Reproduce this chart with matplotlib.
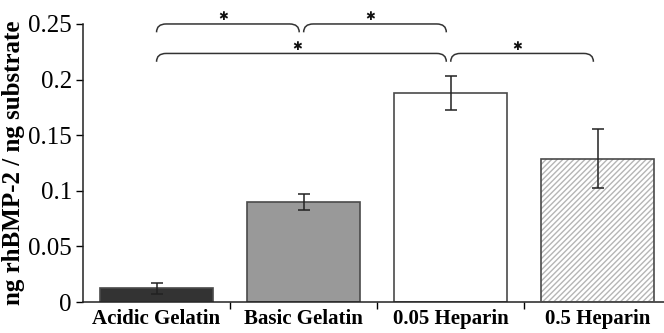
import matplotlib
matplotlib.use("Agg")
import matplotlib.pyplot as plt
from matplotlib.path import Path
from matplotlib.patches import PathPatch

categories = ["Acidic Gelatin", "Basic Gelatin", "0.05 Heparin", "0.5 Heparin"]
values = [0.0125, 0.090, 0.188, 0.129]
errors = [0.005, 0.0075, 0.015, 0.0265]
yticks = [0, 0.05, 0.1, 0.15, 0.2, 0.25]
ytick_labels = ["0", "0.05", "0.1", "0.15", "0.2", "0.25"]
# significance brackets: (start index, end index, level)
brackets = [(0, 1, 0.25), (1, 2, 0.25), (0, 2, 0.2235), (2, 3, 0.2235)]

plt.rcParams['font.family'] = ['Liberation Serif', 'DejaVu Serif']

fig = plt.figure(figsize=(6.64, 3.33), dpi=100)
ax = fig.add_axes([0.125, 0.093, 0.875, 0.835])

x = list(range(len(categories)))
fills = ["#333333", "#999999", "#ffffff", "#ffffff"]
edge = "#4a4a4a"
width = 0.77

for i, (v, c) in enumerate(zip(values, fills)):
    if i == 3:
        ax.bar(x[i], v, width=width, color="white", edgecolor="#b5b5b5",
               hatch="//////", linewidth=0, zorder=2)
        ax.bar(x[i], v, width=width, fill=False, edgecolor=edge, linewidth=1.2, zorder=3)
    else:
        ax.bar(x[i], v, width=width, color=c, edgecolor=edge, linewidth=1.2, zorder=2)

ax.errorbar(x, values, yerr=errors, fmt="none", ecolor="#222222",
            elinewidth=1.1, capsize=4, capthick=1.1, zorder=4)

ax.set_xlim(-0.5, 3.45)
ax.set_ylim(0, 0.25)
ax.set_yticks(yticks)
ax.set_yticklabels(ytick_labels, fontsize=18)
ax.set_xticks(x)
ax.set_xticklabels(categories, fontsize=15, fontweight="bold")
ax.set_xticks([0.5, 1.5, 2.5], minor=True)
ax.tick_params(axis="x", which="major", length=0, pad=5)
ax.tick_params(axis="x", which="minor", length=5, direction="out", width=1)
ax.tick_params(axis="y", length=5, direction="out", width=1, pad=3)
for s in ["top", "right"]:
    ax.spines[s].set_visible(False)
for s in ["left", "bottom"]:
    ax.spines[s].set_linewidth(1.1)
    ax.spines[s].set_color("#222222")
ax.set_ylabel("ng rhBMP-2 / ng substrate", fontsize=18, fontweight="bold", labelpad=2)

# braces
h = 0.0075
w = 0.065
for i, j, yl in brackets:
    x0 = i + 0.0
    x1 = j - 0.03
    verts = [(x0, yl - h), (x0, yl), (x0 + w, yl), (x1 - w, yl), (x1, yl), (x1, yl - h)]
    codes = [Path.MOVETO, Path.CURVE3, Path.CURVE3, Path.LINETO, Path.CURVE3, Path.CURVE3]
    p = PathPatch(Path(verts, codes), fill=False, edgecolor="#333333", linewidth=1.1,
                  clip_on=False, zorder=5)
    ax.add_patch(p)
    ax.text((x0 + x1) / 2 - 0.03, yl + 0.0065, "\u2731", ha="center", va="center",
            fontsize=8.5, color="#111111", family=["DejaVu Sans"], clip_on=False)

fig.savefig("out.png", dpi=100)
